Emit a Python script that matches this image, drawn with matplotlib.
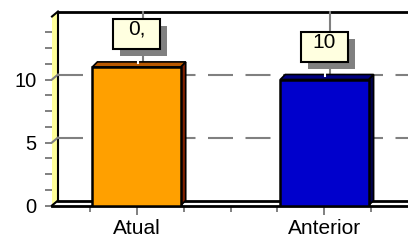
import matplotlib
matplotlib.use("Agg")
import matplotlib.pyplot as plt
from matplotlib.patches import Polygon, Rectangle
from matplotlib.lines import Line2D
from matplotlib.transforms import IdentityTransform
import numpy as np

categories = ["Atual", "Anterior"]
values = [11, 10]
label_texts = ["0,", "10"]
front_colors = ["#FFA000", "#0000CC"]
side_colors = ["#802000", "#000050"]
top_colors = ["#B85800", "#000080"]
y_major = [0, 5, 10]

plt.rcParams["font.family"] = ["Liberation Sans", "DejaVu Sans"]

W, H = 408, 240
fig = plt.figure(figsize=(W / 100, H / 100), dpi=100)
ax = fig.add_axes([52 / W, 34.5 / H, 357 / W, 189 / H])
xmin, xmax, ymax = -0.45, 1.45, 15
ax.set_xlim(xmin, xmax)
ax.set_ylim(0, ymax)
for s in ax.spines.values():
    s.set_visible(False)

GRAY = "#808080"
DX, DY = 6, 5     # depth of walls (px)
BDX, BDY = 5, 5   # depth of bars (px)
ID = IdentityTransform()


def to_px(x, y):
    return ax.transData.transform((x, y))


def poly(pts, z, **kw):
    ax.add_patch(Polygon(pts, closed=True, transform=ID, clip_on=False, zorder=z, **kw))


def line(xs, ys, z, **kw):
    ax.add_line(Line2D(xs, ys, transform=ID, clip_on=False, zorder=z, **kw))


# left wall
fb = to_px(xmin, 0)
ft = to_px(xmin, ymax)
poly([fb, ft, ft + (DX, DY), fb + (DX, DY)], 1, facecolor="#FFFF99", edgecolor="none")
line([ft[0] + DX, ft[0] + DX], [fb[1] + DY, ft[1] + DY], 2, color="black", lw=1.5)
line([ft[0], ft[0] + DX], [ft[1], ft[1] + DY], 2, color="black", lw=1.5)

# top border
line([ft[0] + DX, W], [ft[1] + DY, ft[1] + DY], 2, color="black", lw=2)

# horizontal dashed gridlines on back wall
for v in y_major[1:]:
    p = to_px(xmin, v)
    line([p[0], p[0] + DX], [p[1], p[1] + DY], 2, color=GRAY, lw=1.5)
    line([p[0] + DX, W], [p[1] + DY, p[1] + DY], 2, color=GRAY, lw=1.5,
         dashes=(12, 6), dash_capstyle="butt")

# vertical gridlines at categories
for i in range(len(categories)):
    b = to_px(i, 0) + (DX, DY)
    t = to_px(i, ymax) + (DX, DY)
    line([b[0], t[0]], [b[1], t[1]], 2, color=GRAY, lw=1.5)

# floor
poly([fb, fb + (DX, DY), (W, fb[1] + DY), (W, fb[1])], 3, facecolor="white", edgecolor="none")
line([fb[0] + DX, W], [fb[1] + DY, fb[1] + DY], 3, color="black", lw=2)
line([fb[0], W], [fb[1], fb[1]], 3, color="black", lw=2)
line([fb[0], fb[0] + DX], [fb[1], fb[1] + DY], 3, color="black", lw=1.5)

# bars
bw = 0.47
x = np.arange(len(categories))
ax.bar(x, values, bw, color=front_colors, edgecolor="black", linewidth=1.8, zorder=5)
for i, v in enumerate(values):
    x0, y0 = to_px(i - bw / 2, 0)
    x1, y1 = to_px(i + bw / 2, v)
    poly([(x1, y0), (x1, y1), (x1 + BDX, y1 + BDY), (x1 + BDX, y0 + BDY)], 4,
         facecolor=side_colors[i], edgecolor="black", lw=1.2)
    poly([(x0, y1), (x1, y1), (x1 + BDX, y1 + BDY), (x0 + BDX, y1 + BDY)], 4,
         facecolor=top_colors[i], edgecolor="black", lw=1.2)

# value labels
bx_w, bx_h, gap = 47, 30, 18
for i, v in enumerate(values):
    cx, ty = to_px(i, v)
    line([cx + 1, cx + 1], [ty + BDY - 1, ty + gap], 6, color="white", lw=1.5)
    ax.add_patch(Rectangle((cx - bx_w / 2 + 7, ty + gap - 7), bx_w, bx_h, transform=ID,
                           facecolor=GRAY, edgecolor="none", zorder=6, clip_on=False))
    ax.add_patch(Rectangle((cx - bx_w / 2, ty + gap), bx_w, bx_h, transform=ID,
                           facecolor="#FFFFE0", edgecolor="black", lw=1.5, zorder=7,
                           clip_on=False))
    ax.text(cx, ty + gap + bx_h - 1, label_texts[i], transform=ID, ha="center", va="top",
            fontsize=15, zorder=8)

# ticks
ax.set_yticks(y_major)
ax.set_yticks(np.arange(0, 14, 1.25), minor=True)
ax.tick_params(axis="y", which="both", direction="out", length=5, width=1.4,
               color=GRAY, pad=6, labelsize=14.5)
ax.set_xticks(x)
ax.set_xticklabels(categories)
ax.set_xticks([-0.25, 0.25, 0.5, 0.75, 1.25], minor=True)
ax.tick_params(axis="x", which="major", direction="out", length=6.5, width=1.4,
               color=GRAY, pad=3, labelsize=15)
ax.tick_params(axis="x", which="minor", direction="out", length=4, width=1.4, color=GRAY)

fig.savefig("out.png", dpi=100)
